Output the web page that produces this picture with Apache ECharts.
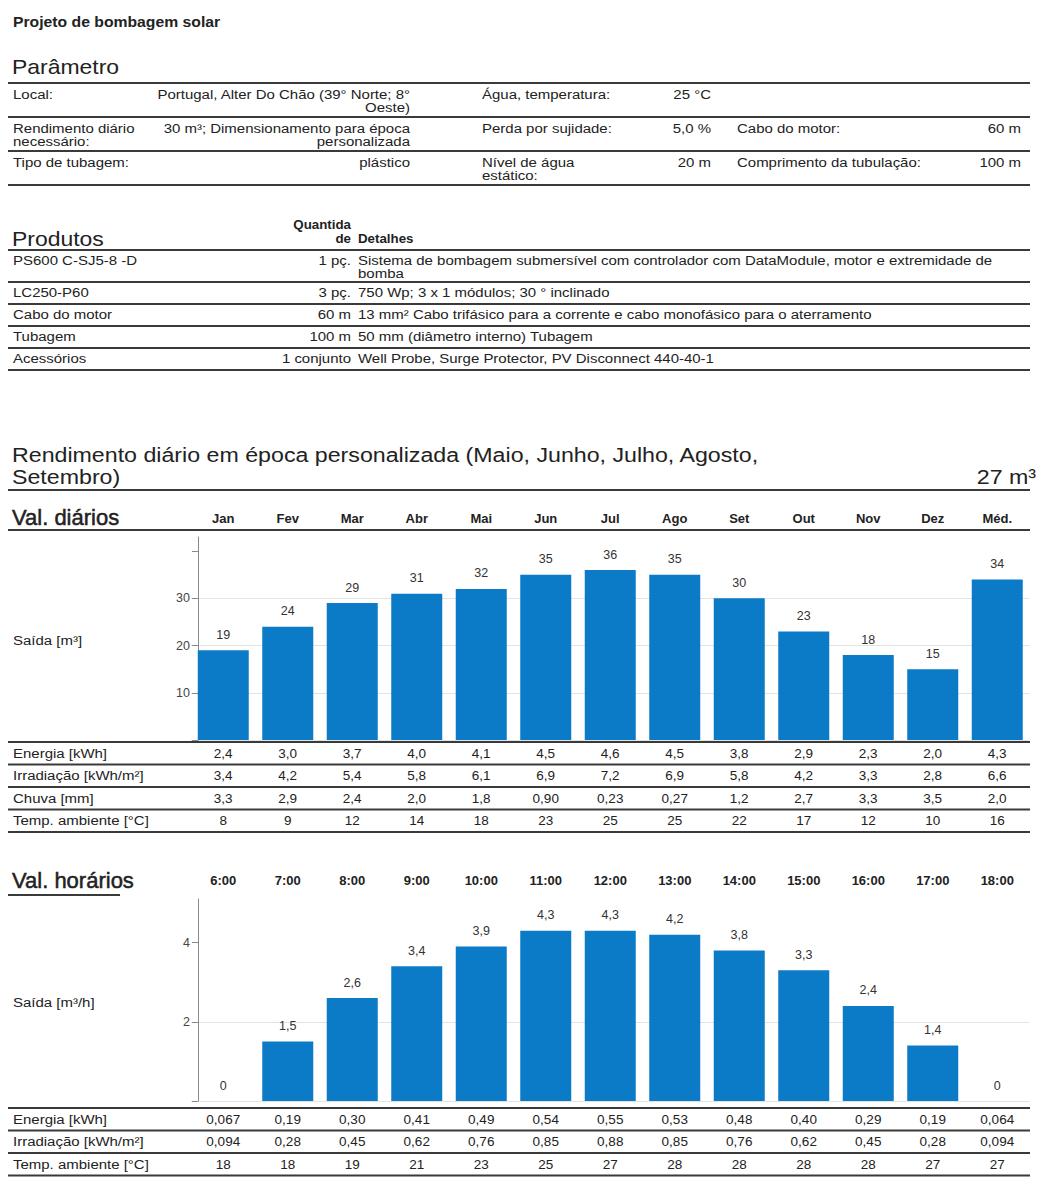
<!DOCTYPE html>
<html>
<head>
<meta charset="utf-8">
<title>Projeto de bombagem solar</title>
<script src="https://cdn.jsdelivr.net/npm/echarts@6/dist/echarts.min.js"></script>
<style>
  html, body { margin: 0; padding: 0; background: #fff; }
  #page { width: 1038px; height: 1191px; }
</style>
</head>
<body>
<div id="page"></div>
<script>
// ---- Daily values (months + annual mean) ----
const months = ['Jan', 'Fev', 'Mar', 'Abr', 'Mai', 'Jun', 'Jul', 'Ago', 'Set', 'Out', 'Nov', 'Dez', 'Méd.'];
const dailyOutput = [19, 24, 29, 31, 32, 35, 36, 35, 30, 23, 18, 15, 34];
const dailyEnergy = ['2,4', '3,0', '3,7', '4,0', '4,1', '4,5', '4,6', '4,5', '3,8', '2,9', '2,3', '2,0', '4,3'];
const dailyIrradiation = ['3,4', '4,2', '5,4', '5,8', '6,1', '6,9', '7,2', '6,9', '5,8', '4,2', '3,3', '2,8', '6,6'];
const dailyRain = ['3,3', '2,9', '2,4', '2,0', '1,8', '0,90', '0,23', '0,27', '1,2', '2,7', '3,3', '3,5', '2,0'];
const dailyTemp = ['8', '9', '12', '14', '18', '23', '25', '25', '22', '17', '12', '10', '16'];
const dailyTicks = [0, 10, 20, 30, 40];
const dailyTickLabels = [10, 20, 30];

// ---- Hourly values ----
const hours = ['6:00', '7:00', '8:00', '9:00', '10:00', '11:00', '12:00', '13:00', '14:00', '15:00', '16:00', '17:00', '18:00'];
const hourlyOutput = [0, 1.5, 2.6, 3.4, 3.9, 4.3, 4.3, 4.2, 3.8, 3.3, 2.4, 1.4, 0];
const hourlyEnergy = ['0,067', '0,19', '0,30', '0,41', '0,49', '0,54', '0,55', '0,53', '0,48', '0,40', '0,29', '0,19', '0,064'];
const hourlyIrradiation = ['0,094', '0,28', '0,45', '0,62', '0,76', '0,85', '0,88', '0,85', '0,76', '0,62', '0,45', '0,28', '0,094'];
const hourlyTemp = ['18', '18', '19', '21', '23', '25', '27', '28', '28', '28', '28', '27', '27'];
const hourlyTicks = [0, 2, 4];
const hourlyTickLabels = [2, 4];

// ---- Parameter table ----
const paramRows = [
  [['Local:'], ['Portugal, Alter Do Chão (39° Norte; 8°', 'Oeste)'], ['Água, temperatura:'], ['25 °C'], [], []],
  [['Rendimento diário', 'necessário:'], ['30 m³; Dimensionamento para época', 'personalizada'], ['Perda por sujidade:'], ['5,0 %'], ['Cabo do motor:'], ['60 m']],
  [['Tipo de tubagem:'], ['plástico'], ['Nível de água', 'estático:'], ['20 m'], ['Comprimento da tubulação:'], ['100 m']]
];

// ---- Product table ----
const productNames = ['PS600 C-SJ5-8 -D', 'LC250-P60', 'Cabo do motor', 'Tubagem', 'Acessórios'];
const productQty = ['1 pç.', '3 pç.', '60 m', '100 m', '1 conjunto'];
const productDetails = [
  ['Sistema de bombagem submersível com controlador com DataModule, motor e extremidade de', 'bomba'],
  ['750 Wp; 3 x 1 módulos; 30 ° inclinado'],
  ['13 mm² Cabo trifásico para a corrente e cabo monofásico para o aterramento'],
  ['50 mm (diâmetro interno) Tubagem'],
  ['Well Probe, Surge Protector, PV Disconnect 440-40-1']
];

const dailyRowNames = ['Energia [kWh]', 'Irradiação [kWh/m²]', 'Chuva [mm]', 'Temp. ambiente [°C]'];
const hourlyRowNames = ['Energia [kWh]', 'Irradiação [kWh/m²]', 'Temp. ambiente [°C]'];

// ---- Styling ----
const FONT = '"Liberation Sans", Arial, Helvetica, sans-serif';
const INK = '#222';
const RULE = '#3a3a3a';
const BAR = '#0b7bc8';
const BODY = 13.5;   // body text size
const WIDE = 1.11;   // horizontal stretch of the report text
const L = 8, R = 1030;

function txt(x, y, s, o) {
  o = o || {};
  const style = {
    x: 0, y: 0, text: s,
    fill: o.color || INK,
    fontSize: o.size || BODY,
    fontWeight: o.weight || 'normal',
    fontFamily: FONT,
    align: o.align || 'left', textAlign: o.align || 'left',
    verticalAlign: 'middle', textVerticalAlign: 'middle'
  };
  if (o.heavy) { style.stroke = o.color || INK; style.lineWidth = o.heavy; }
  return { type: 'text', silent: true, x: x, y: y, scaleX: o.sx || WIDE, style: style };
}
function rule(y, x1, x2, w) {
  return {
    type: 'line', silent: true,
    shape: { x1: x1 == null ? L : x1, y1: y, x2: x2 == null ? R : x2, y2: y },
    style: { stroke: RULE, lineWidth: w || 2 }
  };
}

const g = [];
g.push(txt(13, 22, 'Projeto de bombagem solar', { weight: 'bold', size: 15, sx: 1.05 }));

// Parameter block
g.push(txt(12, 67, 'Parâmetro', { size: 20.5, sx: 1.12 }));
const paramTops = [83, 117, 151];
const paramCols = [
  { x: 13, align: 'left' }, { x: 410, align: 'right' },
  { x: 482, align: 'left' }, { x: 711, align: 'right' },
  { x: 737, align: 'left' }, { x: 1021, align: 'right' }
];
g.push(rule(83));
paramRows.forEach(function (row, r) {
  const top = paramTops[r];
  row.forEach(function (cell, c) {
    cell.forEach(function (line, k) {
      g.push(txt(paramCols[c].x, top + 11 + k * 13, line, { align: paramCols[c].align }));
    });
  });
  g.push(rule(top + 34));
});

// Product block
const QX = 351;
g.push(txt(12, 239, 'Produtos', { size: 20.5, sx: 1.12 }));
g.push(txt(QX, 225, 'Quantida', { weight: 'bold', size: 12, align: 'right' }));
g.push(txt(QX, 239, 'de', { weight: 'bold', size: 12, align: 'right' }));
g.push(txt(QX + 7, 239, 'Detalhes', { weight: 'bold', size: 12 }));
g.push(rule(250));
const productTops = [250, 282, 304, 326, 348];
const productBottoms = [282, 304, 326, 348, 370];
productNames.forEach(function (name, i) {
  const y = productTops[i] + 10;
  g.push(txt(13, y, name));
  g.push(txt(QX, y, productQty[i], { align: 'right' }));
  productDetails[i].forEach(function (line, k) {
    g.push(txt(QX + 7, y + k * 13, line));
  });
  g.push(rule(productBottoms[i]));
});

// Yield heading
g.push(txt(12, 455, 'Rendimento diário em época personalizada (Maio, Junho, Julho, Agosto,', { size: 20, sx: 1.16 }));
g.push(txt(12, 477, 'Setembro)', { size: 20, sx: 1.16 }));
g.push(txt(1036, 477, '27 m³', { size: 20, sx: 1.16, align: 'right' }));
g.push(rule(490));

// Daily block labels and rules
g.push(txt(12, 517, 'Val. diários', { size: 22, sx: 1, heavy: 0.5 }));
g.push(rule(530));
g.push(txt(13, 640, 'Saída [m³]'));
const DROW = 22.5;
g.push(rule(742));
dailyRowNames.forEach(function (name, i) {
  g.push(txt(13, 753.25 + i * DROW, name));
  g.push(rule(764.5 + i * DROW));
});

// Hourly block labels and rules
g.push(txt(12, 880, 'Val. horários', { size: 22, sx: 1, heavy: 0.5 }));
g.push(rule(895, 8, 120));
g.push(txt(13, 1002, 'Saída [m³/h]'));
g.push(rule(1108));
hourlyRowNames.forEach(function (name, i) {
  g.push(txt(13, 1119.25 + i * DROW, name));
  g.push(rule(1130.5 + i * DROW));
});

// ---- Axes ----
const comma = function (v) { return String(v).replace('.', ','); };

function headerAxis(grid, data) {
  return {
    gridIndex: grid, type: 'category', data: data, position: 'top', offset: 19,
    axisLine: { show: false }, axisTick: { show: false }, splitLine: { show: false },
    axisLabel: { interval: 0, margin: 0, verticalAlign: 'middle', fontFamily: FONT, fontWeight: 'bold', fontSize: 13, color: INK }
  };
}
function rowAxis(grid, data, offset) {
  return {
    gridIndex: grid, type: 'category', data: data, position: 'bottom', offset: offset,
    axisLine: { show: false }, axisTick: { show: false }, splitLine: { show: false },
    axisLabel: { interval: 0, margin: 0, verticalAlign: 'middle', fontFamily: FONT, fontSize: 13.5, color: INK }
  };
}
function valueAxis(grid, max, ticks, labels) {
  return {
    gridIndex: grid, type: 'value', min: 0, max: max, offset: -7,
    axisLine: { show: true, lineStyle: { color: '#8a8a8a', width: 1 } },
    axisTick: { show: true, length: 6, customValues: ticks, lineStyle: { color: '#8a8a8a' } },
    axisLabel: { customValues: labels, margin: 8, fontFamily: FONT, fontSize: 12.5, color: '#444' },
    splitLine: { show: true, showMaxLine: false, lineStyle: { color: '#e3e3e3', width: 1 } }
  };
}
function barSeries(xIdx, yIdx, data) {
  return {
    type: 'bar', xAxisIndex: xIdx, yAxisIndex: yIdx, data: data, barWidth: 51,
    itemStyle: { color: BAR },
    label: { show: true, position: 'top', distance: 9, fontFamily: FONT, fontSize: 12.5, color: '#333', formatter: function (p) { return comma(p.value); } }
  };
}

const option = {
  animation: false,
  backgroundColor: '#fff',
  grid: [
    { left: 191, width: 838.5, top: 537, height: 203 },
    { left: 191, width: 838.5, top: 899, height: 202 }
  ],
  xAxis: [
    headerAxis(0, months),
    rowAxis(0, dailyEnergy, 13.25),
    rowAxis(0, dailyIrradiation, 13.25 + DROW),
    rowAxis(0, dailyRain, 13.25 + 2 * DROW),
    rowAxis(0, dailyTemp, 13.25 + 3 * DROW),
    headerAxis(1, hours),
    rowAxis(1, hourlyEnergy, 18.25),
    rowAxis(1, hourlyIrradiation, 18.25 + DROW),
    rowAxis(1, hourlyTemp, 18.25 + 2 * DROW)
  ],
  yAxis: [
    valueAxis(0, 43, dailyTicks, dailyTickLabels),
    valueAxis(1, 5.1, hourlyTicks, hourlyTickLabels)
  ],
  series: [
    barSeries(0, 0, dailyOutput),
    barSeries(5, 1, hourlyOutput)
  ],
  graphic: { elements: g }
};

const chart = echarts.init(document.getElementById('page'), null, { renderer: 'svg' });
chart.setOption(option);
</script>
</body>
</html>
